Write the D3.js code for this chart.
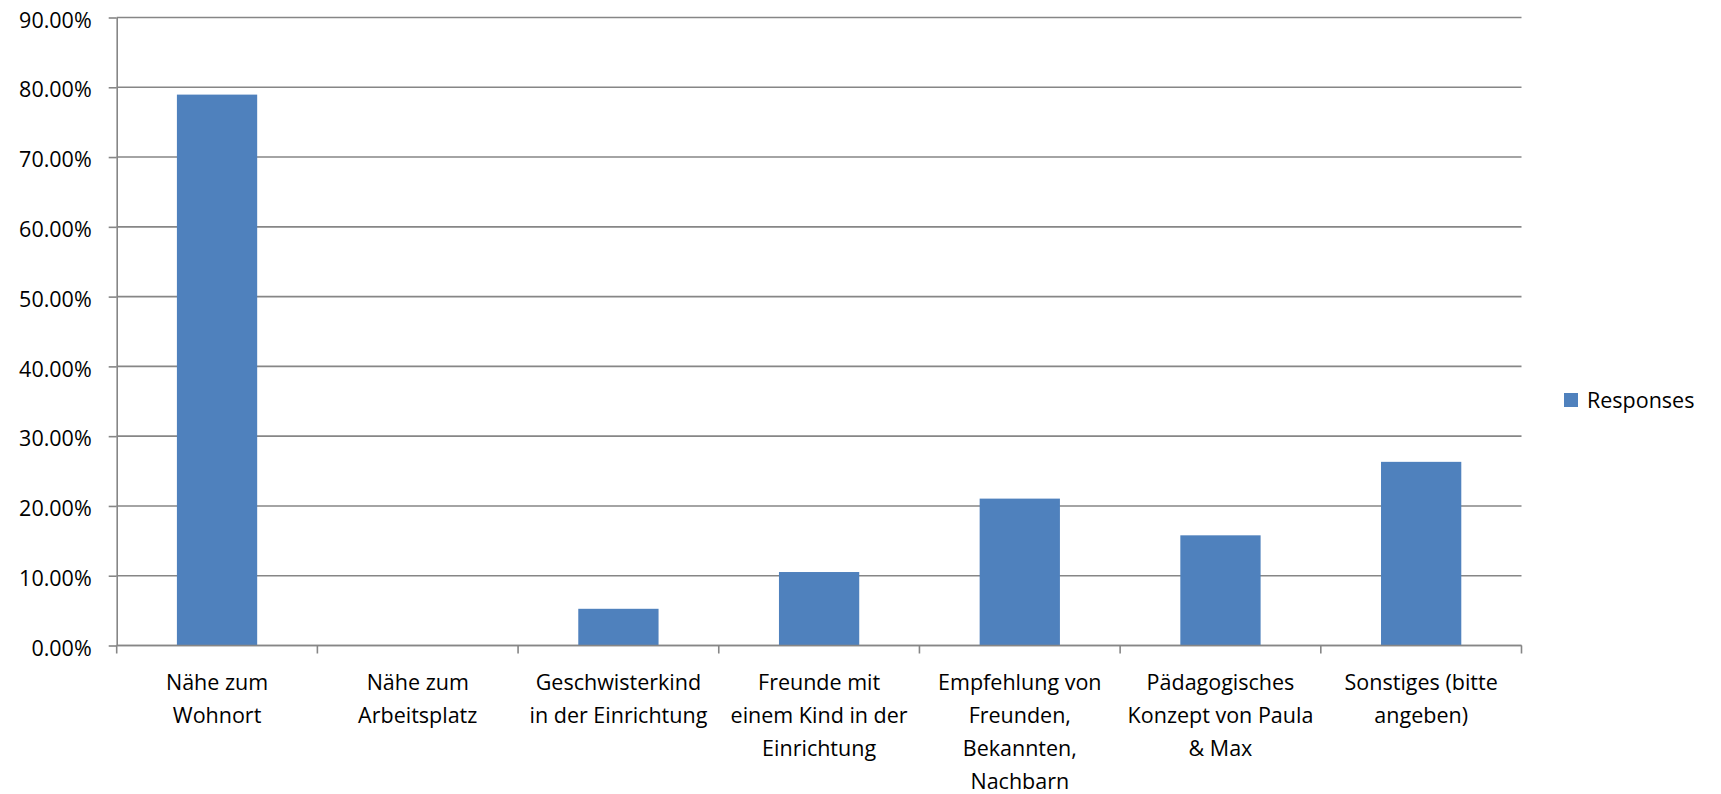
<!DOCTYPE html>
<html>
<head>
<meta charset="utf-8">
<script src="https://cdn.jsdelivr.net/npm/d3@7"></script>
<style>
  html, body { margin: 0; padding: 0; background: #fff; }
  svg { display: block; }
  text { font-family: "Open Sans", "DejaVu Sans", sans-serif; fill: #000; }
</style>
</head>
<body>
<svg id="chart" width="1721" height="794"></svg>
<script>
// ---- data ----
const categories = [
  "Nähe zum\nWohnort",
  "Nähe zum\nArbeitsplatz",
  "Geschwisterkind\nin der Einrichtung",
  "Freunde mit\neinem Kind in der\nEinrichtung",
  "Empfehlung von\nFreunden,\nBekannten,\nNachbarn",
  "Pädagogisches\nKonzept von Paula\n& Max",
  "Sonstiges (bitte\nangeben)"
];
const responses = [0.7895, 0, 0.0526, 0.1053, 0.2105, 0.1579, 0.2632];
const yTicks = [0, 0.1, 0.2, 0.3, 0.4, 0.5, 0.6, 0.7, 0.8, 0.9];
const seriesName = "Responses";

// ---- layout ----
const svg = d3.select("#chart");
const plotLeft = 116.7, plotRight = 1521.5, plotTop = 17.5, plotBottom = 645.5;
const gridColor = "#868686";
const barColor = "#4f81bd";
const fontSize = "21.5px";

const x = d3.scaleBand().domain(categories).range([plotLeft, plotRight]).padding(0);
const y = d3.scaleLinear().domain([0, 0.9]).range([plotBottom, plotTop]);
const fmt = d3.format(".2%");

// gridlines
svg.append("g").selectAll("line").data(yTicks).join("line")
  .attr("x1", plotLeft).attr("x2", plotRight)
  .attr("y1", d => y(d)).attr("y2", d => y(d))
  .attr("stroke", gridColor).attr("stroke-width", 1.6);

// bars
const bw = x.bandwidth() * 0.4;
svg.append("g").selectAll("rect").data(categories).join("rect")
  .attr("x", (c) => x(c) + x.bandwidth() / 2 - bw / 2)
  .attr("width", bw)
  .attr("y", (c, i) => y(responses[i]))
  .attr("height", (c, i) => y(0) - y(responses[i]))
  .attr("fill", barColor);

// y axis
const yAxis = d3.axisLeft(y).tickValues(yTicks).tickFormat(fmt).tickSizeInner(8).tickSizeOuter(0).tickPadding(17);
const gy = svg.append("g").attr("transform", `translate(${plotLeft},0)`).call(yAxis);
gy.select(".domain").attr("stroke", gridColor).attr("stroke-width", 1.6);
gy.selectAll(".tick line").attr("stroke", gridColor).attr("stroke-width", 1.6);
gy.selectAll(".tick text").style("font-size", fontSize).style("font-family", "'Open Sans', sans-serif").attr("dy", "0.45em").attr("fill", "#000");

// x axis line + boundary ticks
const boundaries = categories.map(c => x(c)).concat([plotRight]);
svg.append("line").attr("x1", plotLeft).attr("x2", plotRight).attr("y1", plotBottom).attr("y2", plotBottom)
  .attr("stroke", gridColor).attr("stroke-width", 1.6);
svg.append("g").selectAll("line").data(boundaries).join("line")
  .attr("x1", d => d).attr("x2", d => d)
  .attr("y1", plotBottom).attr("y2", plotBottom + 8)
  .attr("stroke", gridColor).attr("stroke-width", 1.6);

// category labels
const lab = svg.append("g").selectAll("text").data(categories).join("text")
  .attr("text-anchor", "middle")
  .style("font-size", fontSize)
  .attr("transform", c => `translate(${x(c) + x.bandwidth() / 2},${plotBottom + 44})`);
lab.selectAll("tspan").data(c => c.split("\n")).join("tspan")
  .attr("x", 0).attr("y", (d, i) => i * 33)
  .text(d => d);

// legend
const lg = svg.append("g").attr("transform", "translate(1564,393)");
lg.append("rect").attr("width", 14).attr("height", 14).attr("fill", barColor);
lg.append("text").attr("x", 23).attr("y", 7).attr("dy", "0.36em").style("font-size", fontSize).text(seriesName);
</script>
</body>
</html>
